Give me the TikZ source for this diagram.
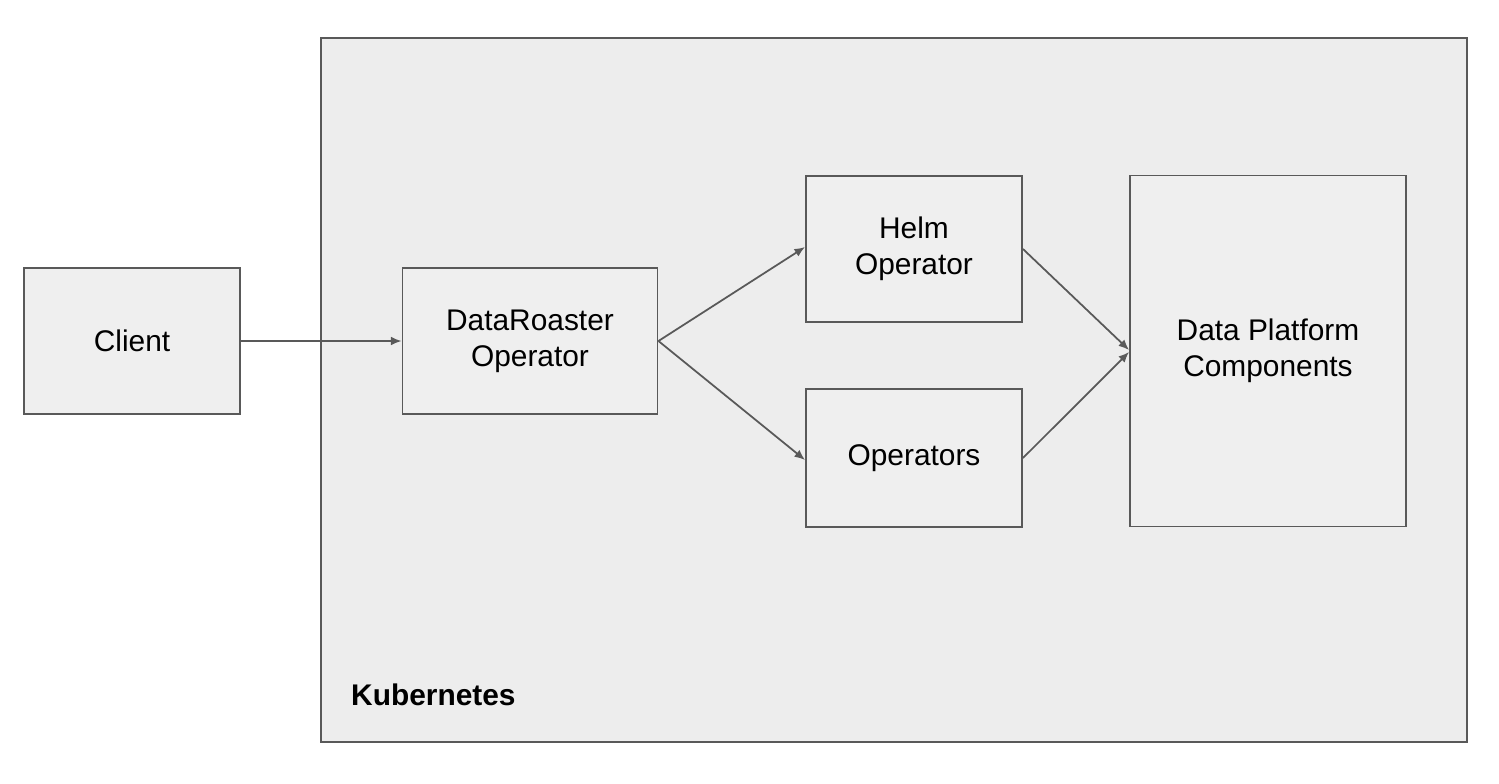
\documentclass[tikz,border=0pt]{standalone}
\usepackage{fontspec}
\setmainfont{Liberation Sans}
\usetikzlibrary{positioning, arrows.meta}

\definecolor{edgegrey}{HTML}{595959}
\definecolor{clusterfill}{HTML}{EDEDED}
\definecolor{boxfill}{HTML}{EFEFEF}

\begin{document}
\begin{tikzpicture}
    [
        node distance=2cm and 2cm, on grid,
        cluster_box/.style={rectangle, draw=edgegrey, fill=clusterfill, line width=1.1pt, minimum width=22.92cm, minimum height=14.08cm},
        plain_box/.style={rectangle, draw=edgegrey, fill=boxfill, line width=1.1pt, minimum width=4.32cm, minimum height=2.92cm, align=center, font=\fontsize{17}{20.5}\selectfont},
        flow/.style={-{Latex[length=6pt, width=5pt]}, line width=1pt, color=edgegrey},
    ]
        \useasboundingbox (0,0) rectangle (29.98,-15.66) ;
        \fill[white] (0,0) rectangle (29.98,-15.66) ;
        \node[cluster_box] (k8s) at (17.88,-7.80) {} ;
        \node[anchor=west, font=\bfseries\fontsize{17}{20.5}\selectfont] (k8slabel) at (6.90,-13.90) {Kubernetes} ;
        \node[plain_box] (client) at (2.64,-6.82) {Client} ;
        \node[plain_box, minimum width=5.10cm] (roaster) [right = 7.96cm of client] {DataRoaster\\Operator} ;
        \node[plain_box] (helm) [above right = 1.84cm and 7.68cm of roaster] {Helm\\Operator} ;
        \node[plain_box, minimum height=2.76cm] (operators) [below right = 2.34cm and 7.68cm of roaster] {Operators} ;
        \node[plain_box, minimum width=5.52cm, minimum height=7.02cm] (platform) [right = 7.08cm of helm, yshift=-2.04cm] {Data Platform\\Components} ;
        \draw[flow] (client) -- (roaster) ;
        \draw[flow] (roaster.east) -- ([yshift=0.04cm]helm.west) ;
        \draw[flow] (roaster.east) -- ([yshift=-0.04cm]operators.west) ;
        \draw[flow] (helm.east) -- ([yshift=0.02cm]platform.west) ;
        \draw[flow] (operators.east) -- ([yshift=-0.02cm]platform.west) ;
    \end{tikzpicture}
\end{document}
